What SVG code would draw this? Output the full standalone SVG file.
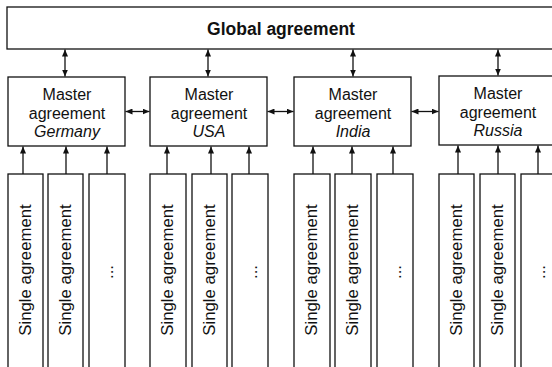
<svg xmlns="http://www.w3.org/2000/svg" width="552" height="367" viewBox="0 0 552 367">
  <style>
    .box { fill: #fff; stroke: #111; stroke-width: 1.3; }
    .link { stroke: #111; stroke-width: 1.3; fill: none; }
    .t { font-family: "Liberation Sans", Arial, sans-serif; fill: #111; text-anchor: middle; }
    .title { font-size: 17.5px; font-weight: bold; }
    .m { font-size: 16px; }
    .it { font-style: italic; }
    .s { font-size: 16.8px; }
  </style>
  <defs>
    <marker id="head" markerUnits="userSpaceOnUse" markerWidth="8" markerHeight="6" refX="7" refY="3" orient="auto-start-reverse">
      <path d="M0,0 L7,3 L0,6 z" fill="#111"/>
    </marker>
  </defs>

  <rect x="0" y="0" width="552" height="367" fill="#fff"/>

  <!-- top level -->
  <g id="global">
    <rect class="box" x="7" y="7" width="550" height="42"/>
    <text class="t title" x="281" y="35">Global agreement</text>
  </g>

  <!-- country master agreements -->
  <g id="master-germany">
    <rect class="box" x="8" y="77" width="117" height="69"/>
    <text class="t m" x="67" y="100">Master</text>
    <text class="t m" x="67" y="118.5">agreement</text>
    <text class="t m it" x="67" y="137">Germany</text>
  </g>
  <g id="master-usa">
    <rect class="box" x="150" y="77" width="117" height="69"/>
    <text class="t m" x="209" y="100">Master</text>
    <text class="t m" x="209" y="118.5">agreement</text>
    <text class="t m it" x="209" y="137">USA</text>
  </g>
  <g id="master-india">
    <rect class="box" x="294" y="77" width="117" height="69"/>
    <text class="t m" x="353" y="100">Master</text>
    <text class="t m" x="353" y="118.5">agreement</text>
    <text class="t m it" x="353" y="137">India</text>
  </g>
  <g id="master-russia">
    <rect class="box" x="439" y="76" width="117" height="69"/>
    <text class="t m" x="498" y="99">Master</text>
    <text class="t m" x="498" y="117.5">agreement</text>
    <text class="t m it" x="498" y="136">Russia</text>
  </g>

  <!-- single agreements, three columns per country -->
  <g id="singles-germany">
    <rect class="box" x="8" y="174" width="35" height="200"/>
    <text class="t s" x="31" y="270" transform="rotate(-90 31 270)">Single agreement</text>
    <rect class="box" x="48" y="174" width="35" height="200"/>
    <text class="t s" x="71" y="270" transform="rotate(-90 71 270)">Single agreement</text>
    <rect class="box" x="89" y="174" width="36" height="200"/>
    <text class="t s" x="113" y="272" transform="rotate(-90 113 272)">...</text>
  </g>
  <g id="singles-usa">
    <rect class="box" x="150" y="174" width="36" height="200"/>
    <text class="t s" x="173" y="270" transform="rotate(-90 173 270)">Single agreement</text>
    <rect class="box" x="192" y="174" width="35" height="200"/>
    <text class="t s" x="215" y="270" transform="rotate(-90 215 270)">Single agreement</text>
    <rect class="box" x="232" y="174" width="36" height="200"/>
    <text class="t s" x="257" y="272" transform="rotate(-90 257 272)">...</text>
  </g>
  <g id="singles-india">
    <rect class="box" x="294" y="174" width="36" height="200"/>
    <text class="t s" x="317" y="270" transform="rotate(-90 317 270)">Single agreement</text>
    <rect class="box" x="335" y="174" width="36" height="200"/>
    <text class="t s" x="358" y="270" transform="rotate(-90 358 270)">Single agreement</text>
    <rect class="box" x="377" y="174" width="36" height="200"/>
    <text class="t s" x="401" y="272" transform="rotate(-90 401 272)">...</text>
  </g>
  <g id="singles-russia">
    <rect class="box" x="439" y="174" width="35" height="200"/>
    <text class="t s" x="462" y="270" transform="rotate(-90 462 270)">Single agreement</text>
    <rect class="box" x="480" y="174" width="35" height="200"/>
    <text class="t s" x="503" y="270" transform="rotate(-90 503 270)">Single agreement</text>
    <rect class="box" x="521" y="174" width="36" height="200"/>
    <text class="t s" x="545" y="272" transform="rotate(-90 545 272)">...</text>
  </g>

  <!-- connectors -->
  <g id="connectors">
    <!-- global <-> masters -->
    <line class="link" x1="65" y1="49.5" x2="65" y2="76.5" marker-start="url(#head)" marker-end="url(#head)"/>
    <line class="link" x1="208" y1="49.5" x2="208" y2="76.5" marker-start="url(#head)" marker-end="url(#head)"/>
    <line class="link" x1="353" y1="49.5" x2="353" y2="76.5" marker-start="url(#head)" marker-end="url(#head)"/>
    <line class="link" x1="498" y1="49.5" x2="498" y2="75.5" marker-start="url(#head)" marker-end="url(#head)"/>
    <!-- masters <-> masters -->
    <line class="link" x1="125.5" y1="111.5" x2="149.5" y2="111.5" marker-start="url(#head)" marker-end="url(#head)"/>
    <line class="link" x1="267.5" y1="111.5" x2="293.5" y2="111.5" marker-start="url(#head)" marker-end="url(#head)"/>
    <line class="link" x1="411.5" y1="111.5" x2="438.5" y2="111.5" marker-start="url(#head)" marker-end="url(#head)"/>
    <!-- single -> master -->
    <line class="link" x1="23" y1="174" x2="23" y2="146.5" marker-end="url(#head)"/>
    <line class="link" x1="66" y1="174" x2="66" y2="146.5" marker-end="url(#head)"/>
    <line class="link" x1="107" y1="174" x2="107" y2="146.5" marker-end="url(#head)"/>
    <line class="link" x1="167" y1="174" x2="167" y2="146.5" marker-end="url(#head)"/>
    <line class="link" x1="211" y1="174" x2="211" y2="146.5" marker-end="url(#head)"/>
    <line class="link" x1="249" y1="174" x2="249" y2="146.5" marker-end="url(#head)"/>
    <line class="link" x1="313" y1="174" x2="313" y2="146.5" marker-end="url(#head)"/>
    <line class="link" x1="352" y1="174" x2="352" y2="146.5" marker-end="url(#head)"/>
    <line class="link" x1="393" y1="174" x2="393" y2="146.5" marker-end="url(#head)"/>
    <line class="link" x1="458" y1="174" x2="458" y2="145.5" marker-end="url(#head)"/>
    <line class="link" x1="498" y1="174" x2="498" y2="145.5" marker-end="url(#head)"/>
    <line class="link" x1="538" y1="174" x2="538" y2="145.5" marker-end="url(#head)"/>
  </g>
</svg>
